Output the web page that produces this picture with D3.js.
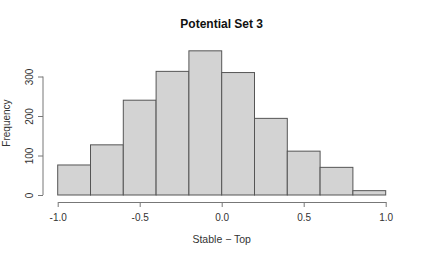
<!DOCTYPE html>
<html>
<head>
<meta charset="utf-8">
<script src="https://cdn.jsdelivr.net/npm/d3@7"></script>
<style>
  body { margin: 0; background: #fff; }
  text { font-family: "Liberation Sans", Arial, sans-serif; }
</style>
</head>
<body>
<div id="chart"></div>
<script>
// bins of the histogram (edges) and counts
var binEdges = [-1.0, -0.8, -0.6, -0.4, -0.2, 0.0, 0.2, 0.4, 0.6, 0.8, 1.0];
var counts = [76, 127, 240, 313, 365, 310, 194, 111, 70, 11];
var xTicks = [-1.0, -0.5, 0.0, 0.5, 1.0];
var yTicks = [0, 100, 200, 300];

var W = 422, H = 257;
var svg = d3.select("#chart").append("svg")
  .attr("width", W).attr("height", H);

// x: -1 -> 57.7, 1 -> 385.7 ; y: 0 -> 195, 100 -> 155.5
var x = d3.scaleLinear().domain([-1, 1]).range([57.7, 385.7]);
var y = d3.scaleLinear().domain([0, 100]).range([195, 155.5]);

var bins = counts.map(function(c, i) {
  return { x0: binEdges[i], x1: binEdges[i + 1], n: c };
});

svg.selectAll("rect.bar")
  .data(bins)
  .join("rect")
  .attr("class", "bar")
  .attr("x", d => x(d.x0))
  .attr("y", d => y(d.n))
  .attr("width", d => x(d.x1) - x(d.x0))
  .attr("height", d => y(0) - y(d.n))
  .attr("fill", "#d3d3d3")
  .attr("stroke", "#555")
  .attr("stroke-width", 1);

// x axis (R style: detached below)
var xAxis = svg.append("g")
  .attr("transform", "translate(0,202)")
  .call(d3.axisBottom(x).tickValues(xTicks).tickFormat(d3.format(".1f")).tickSize(5).tickSizeOuter(0));
xAxis.select(".domain").attr("stroke", "#777");
xAxis.selectAll(".tick line").attr("stroke", "#777");
xAxis.selectAll(".tick text")
  .attr("fill", "#333").attr("font-size", 10).attr("dy", "1.1em")
  .text(d => d3.format(".1f")(d).replace("−", "-"));

// y axis
var yAxis = svg.append("g")
  .attr("transform", "translate(43,0)")
  .call(d3.axisLeft(y).tickValues(yTicks).tickSize(5).tickSizeOuter(0));
yAxis.select(".domain").attr("stroke", "#777")
  .attr("d", "M0," + y(0) + "V" + y(300));
yAxis.selectAll(".tick line").attr("stroke", "#777");
yAxis.selectAll(".tick text")
  .attr("fill", "#333").attr("font-size", 10)
  .attr("x", 0).attr("dy", 0)
  .attr("text-anchor", "middle")
  .attr("transform", "translate(-10,0) rotate(-90)");

// title
svg.append("text")
  .attr("x", 221.7).attr("y", 28)
  .attr("text-anchor", "middle")
  .attr("font-weight", "bold")
  .attr("font-size", 12)
  .attr("fill", "#111")
  .text("Potential Set 3");

// axis labels
svg.append("text")
  .attr("x", 221.7).attr("y", 243)
  .attr("text-anchor", "middle")
  .attr("font-size", 10.5)
  .attr("fill", "#333")
  .text("Stable \u2212 Top");

svg.append("text")
  .attr("transform", "translate(10,123) rotate(-90)")
  .attr("text-anchor", "middle")
  .attr("font-size", 10)
  .attr("fill", "#333")
  .text("Frequency");
</script>
</body>
</html>
